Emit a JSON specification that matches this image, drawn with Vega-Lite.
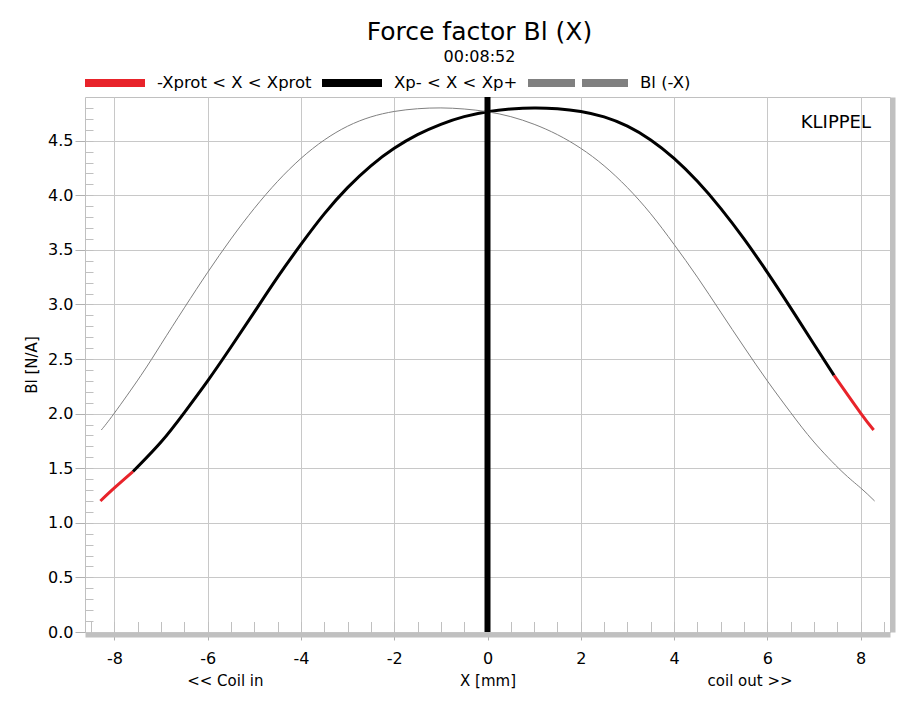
{
  "$schema": "https://vega.github.io/schema/vega-lite/v6.json",
  "width": 805,
  "height": 535,
  "autosize": {"type": "none"},
  "padding": {"left": 85, "top": 97, "right": 33, "bottom": 71},
  "background": "white",
  "config": {
    "font": "DejaVu Sans",
    "view": {"stroke": "#c0c0c0", "strokeWidth": 1},
    "axis": {
      "labelFont": "DejaVu Sans", "titleFont": "DejaVu Sans",
      "labelFontSize": 16, "titleFontSize": 15,
      "labelColor": "#000000", "titleColor": "#000000", "titleFontWeight": "normal",
      "gridColor": "#c8c8c8", "gridWidth": 1, "tickColor": "#b0b0b0"
    }
  },
  "title": {
    "text": "Force factor Bl (X)", "subtitle": "00:08:52",
    "anchor": "middle", "frame": "group", "dx": -8,
    "font": "DejaVu Sans", "subtitleFont": "DejaVu Sans",
    "fontSize": 25, "subtitleFontSize": 16, "fontWeight": "normal",
    "color": "#000000", "subtitleColor": "#000000",
    "offset": -16, "subtitlePadding": 4
  },
  "datasets": {
    "bl": [
      {"X": -8.3, "Bl": 1.20, "series": "-Xprot < X < Xprot", "seg": "L"},
      {"X": -8.0, "Bl": 1.32, "series": "-Xprot < X < Xprot", "seg": "L"},
      {"X": -7.6, "Bl": 1.47, "series": "-Xprot < X < Xprot", "seg": "L"},
      {"X": -7.6, "Bl": 1.47, "series": "Xp- < X < Xp+", "seg": "M"},
      {"X": -7.0, "Bl": 1.74, "series": "Xp- < X < Xp+", "seg": "M"},
      {"X": -6.5, "Bl": 2.01, "series": "Xp- < X < Xp+", "seg": "M"},
      {"X": -6.0, "Bl": 2.30, "series": "Xp- < X < Xp+", "seg": "M"},
      {"X": -5.5, "Bl": 2.61, "series": "Xp- < X < Xp+", "seg": "M"},
      {"X": -5.0, "Bl": 2.93, "series": "Xp- < X < Xp+", "seg": "M"},
      {"X": -4.5, "Bl": 3.25, "series": "Xp- < X < Xp+", "seg": "M"},
      {"X": -4.0, "Bl": 3.55, "series": "Xp- < X < Xp+", "seg": "M"},
      {"X": -3.5, "Bl": 3.83, "series": "Xp- < X < Xp+", "seg": "M"},
      {"X": -3.0, "Bl": 4.07, "series": "Xp- < X < Xp+", "seg": "M"},
      {"X": -2.5, "Bl": 4.27, "series": "Xp- < X < Xp+", "seg": "M"},
      {"X": -2.0, "Bl": 4.43, "series": "Xp- < X < Xp+", "seg": "M"},
      {"X": -1.5, "Bl": 4.555, "series": "Xp- < X < Xp+", "seg": "M"},
      {"X": -1.0, "Bl": 4.65, "series": "Xp- < X < Xp+", "seg": "M"},
      {"X": -0.5, "Bl": 4.72, "series": "Xp- < X < Xp+", "seg": "M"},
      {"X": 0.0, "Bl": 4.765, "series": "Xp- < X < Xp+", "seg": "M"},
      {"X": 0.5, "Bl": 4.79, "series": "Xp- < X < Xp+", "seg": "M"},
      {"X": 1.0, "Bl": 4.80, "series": "Xp- < X < Xp+", "seg": "M"},
      {"X": 1.5, "Bl": 4.7925, "series": "Xp- < X < Xp+", "seg": "M"},
      {"X": 2.0, "Bl": 4.7675, "series": "Xp- < X < Xp+", "seg": "M"},
      {"X": 2.5, "Bl": 4.7175, "series": "Xp- < X < Xp+", "seg": "M"},
      {"X": 3.0, "Bl": 4.6325, "series": "Xp- < X < Xp+", "seg": "M"},
      {"X": 3.5, "Bl": 4.506, "series": "Xp- < X < Xp+", "seg": "M"},
      {"X": 4.0, "Bl": 4.3375, "series": "Xp- < X < Xp+", "seg": "M"},
      {"X": 4.5, "Bl": 4.1275, "series": "Xp- < X < Xp+", "seg": "M"},
      {"X": 5.0, "Bl": 3.88, "series": "Xp- < X < Xp+", "seg": "M"},
      {"X": 5.5, "Bl": 3.60, "series": "Xp- < X < Xp+", "seg": "M"},
      {"X": 6.0, "Bl": 3.294, "series": "Xp- < X < Xp+", "seg": "M"},
      {"X": 6.5, "Bl": 2.969, "series": "Xp- < X < Xp+", "seg": "M"},
      {"X": 7.0, "Bl": 2.635, "series": "Xp- < X < Xp+", "seg": "M"},
      {"X": 7.43, "Bl": 2.35, "series": "Xp- < X < Xp+", "seg": "M"},
      {"X": 7.43, "Bl": 2.35, "series": "-Xprot < X < Xprot", "seg": "R"},
      {"X": 8.0, "Bl": 2.005, "series": "-Xprot < X < Xprot", "seg": "R"},
      {"X": 8.28, "Bl": 1.85, "series": "-Xprot < X < Xprot", "seg": "R"}
    ],
    "blneg": [
      {"X": -8.28, "Bl": 1.85, "series": "Bl (-X)"},
      {"X": -8.0, "Bl": 2.005, "series": "Bl (-X)"},
      {"X": -7.43, "Bl": 2.35, "series": "Bl (-X)"},
      {"X": -7.0, "Bl": 2.635, "series": "Bl (-X)"},
      {"X": -6.5, "Bl": 2.969, "series": "Bl (-X)"},
      {"X": -6.0, "Bl": 3.294, "series": "Bl (-X)"},
      {"X": -5.5, "Bl": 3.60, "series": "Bl (-X)"},
      {"X": -5.0, "Bl": 3.88, "series": "Bl (-X)"},
      {"X": -4.5, "Bl": 4.1275, "series": "Bl (-X)"},
      {"X": -4.0, "Bl": 4.3375, "series": "Bl (-X)"},
      {"X": -3.5, "Bl": 4.506, "series": "Bl (-X)"},
      {"X": -3.0, "Bl": 4.6325, "series": "Bl (-X)"},
      {"X": -2.5, "Bl": 4.7175, "series": "Bl (-X)"},
      {"X": -2.0, "Bl": 4.7675, "series": "Bl (-X)"},
      {"X": -1.5, "Bl": 4.7925, "series": "Bl (-X)"},
      {"X": -1.0, "Bl": 4.80, "series": "Bl (-X)"},
      {"X": -0.5, "Bl": 4.79, "series": "Bl (-X)"},
      {"X": 0.0, "Bl": 4.765, "series": "Bl (-X)"},
      {"X": 0.5, "Bl": 4.72, "series": "Bl (-X)"},
      {"X": 1.0, "Bl": 4.65, "series": "Bl (-X)"},
      {"X": 1.5, "Bl": 4.555, "series": "Bl (-X)"},
      {"X": 2.0, "Bl": 4.43, "series": "Bl (-X)"},
      {"X": 2.5, "Bl": 4.27, "series": "Bl (-X)"},
      {"X": 3.0, "Bl": 4.07, "series": "Bl (-X)"},
      {"X": 3.5, "Bl": 3.83, "series": "Bl (-X)"},
      {"X": 4.0, "Bl": 3.55, "series": "Bl (-X)"},
      {"X": 4.5, "Bl": 3.25, "series": "Bl (-X)"},
      {"X": 5.0, "Bl": 2.93, "series": "Bl (-X)"},
      {"X": 5.5, "Bl": 2.61, "series": "Bl (-X)"},
      {"X": 6.0, "Bl": 2.30, "series": "Bl (-X)"},
      {"X": 6.5, "Bl": 2.01, "series": "Bl (-X)"},
      {"X": 7.0, "Bl": 1.74, "series": "Bl (-X)"},
      {"X": 7.6, "Bl": 1.47, "series": "Bl (-X)"},
      {"X": 8.0, "Bl": 1.32, "series": "Bl (-X)"},
      {"X": 8.3, "Bl": 1.20, "series": "Bl (-X)"}
    ],
    "rest": [{"X": 0}],
    "notes": [
      {"X": -5.62, "Bl": -0.449, "label": "<< Coil in"},
      {"X": 5.63, "Bl": -0.449, "label": "coil out >>"}
    ],
    "brand": [{"X": 7.47, "Bl": 4.665, "label": "KLIPPEL"}]
  },
  "layer": [
    {
      "data": {"name": "bl"},
      "mark": {"type": "line", "strokeWidth": 3, "interpolate": "natural"},
      "encoding": {
        "x": {
          "field": "X", "type": "quantitative",
          "scale": {"domain": [-8.63, 8.63], "nice": false, "zero": false},
          "axis": {
            "orient": "bottom", "values": [-8, -6, -4, -2, 0, 2, 4, 6, 8],
            "labelExpr": "'' + datum.value", "grid": true, "domain": false,
            "ticks": true, "tickSize": 8, "labelPadding": 10,
            "labelFlush": false, "labelOverlap": false,
            "title": "X [mm]", "titlePadding": 7
          }
        },
        "y": {
          "field": "Bl", "type": "quantitative",
          "scale": {"domain": [0, 4.9], "nice": false, "zero": false},
          "axis": {
            "orient": "left", "values": [0, 0.5, 1, 1.5, 2, 2.5, 3, 3.5, 4, 4.5],
            "format": ".1f", "grid": true, "domain": false,
            "tickSize": 10, "labelPadding": 2, "labelFlush": false, "labelOverlap": false,
            "title": "Bl [N/A]", "titlePadding": 8
          }
        },
        "color": {
          "field": "series", "type": "nominal",
          "scale": {
            "domain": ["-Xprot < X < Xprot", "Xp- < X < Xp+", "Bl (-X)"],
            "range": ["#e8232a", "#000000", "#808080"]
          },
          "legend": {
            "title": null, "orient": "top", "direction": "horizontal", "offset": -2,
            "symbolType": "stroke", "symbolSize": 3600, "symbolStrokeWidth": 8,
            "labelFont": "DejaVu Sans", "labelFontSize": 16.5, "labelColor": "#000000",
            "labelOffset": 4, "columnPadding": -6, "padding": 0,
            "encode": {
              "symbols": {"update": {
                "strokeWidth": {"value": 8},
                "size": {"signal": "datum.value === 'Bl (-X)' ? 10000 : 3600"},
                "x": {"signal": "datum.value === 'Bl (-X)' ? 50 : 30"},
                "strokeDash": {"signal": "datum.value === 'Bl (-X)' ? [47, 7] : [1, 0]"}
              }},
              "labels": {"update": {
                "dx": {"signal": "datum.value === 'Bl (-X)' ? 40 : 0"}
              }}
            }
          }
        },
        "detail": {"field": "seg", "type": "nominal"}
      }
    },
    {
      "data": {"name": "blneg"},
      "mark": {"type": "line", "strokeWidth": 1, "interpolate": "natural"},
      "encoding": {
        "x": {
          "field": "X", "type": "quantitative",
          "scale": {"domain": [-8.63, 8.63], "nice": false, "zero": false},
          "axis": {
            "orient": "bottom",
            "values": [-8.5, -8, -7.5, -7, -6.5, -6, -5.5, -5, -4.5, -4, -3.5, -3, -2.5, -2, -1.5, -1, -0.5, 0, 0.5, 1, 1.5, 2, 2.5, 3, 3.5, 4, 4.5, 5, 5.5, 6, 6.5, 7, 7.5, 8, 8.5],
            "labels": false, "grid": false, "ticks": true, "tickSize": -13, "tickColor": "#c0c0c0",
            "domain": true, "domainColor": "#c0c0c0", "domainWidth": 5, "offset": 2.5, "title": null
          }
        },
        "y": {
          "field": "Bl", "type": "quantitative",
          "scale": {"domain": [0, 4.9], "nice": false, "zero": false},
          "axis": {
            "orient": "left",
            "values": [0.1, 0.2, 0.3, 0.4, 0.5, 0.6, 0.7, 0.8, 0.9, 1, 1.1, 1.2, 1.3, 1.4, 1.5, 1.6, 1.7, 1.8, 1.9, 2, 2.1, 2.2, 2.3, 2.4, 2.5, 2.6, 2.7, 2.8, 2.9, 3, 3.1, 3.2, 3.3, 3.4, 3.5, 3.6, 3.7, 3.8, 3.9, 4, 4.1, 4.2, 4.3, 4.4, 4.5, 4.6, 4.7, 4.8],
            "labels": false, "grid": false, "domain": false, "ticks": true,
            "tickSize": -8, "tickColor": "#c0c0c0", "title": null
          }
        },
        "color": {
          "field": "series", "type": "nominal",
          "scale": {
            "domain": ["-Xprot < X < Xprot", "Xp- < X < Xp+", "Bl (-X)"],
            "range": ["#e8232a", "#000000", "#808080"]
          },
          "legend": {
            "title": null, "orient": "top", "direction": "horizontal", "offset": -2,
            "symbolType": "stroke", "symbolSize": 3600, "symbolStrokeWidth": 8,
            "labelFont": "DejaVu Sans", "labelFontSize": 16.5, "labelColor": "#000000",
            "labelOffset": 4, "columnPadding": -6, "padding": 0,
            "encode": {
              "symbols": {"update": {
                "strokeWidth": {"value": 8},
                "size": {"signal": "datum.value === 'Bl (-X)' ? 10000 : 3600"},
                "x": {"signal": "datum.value === 'Bl (-X)' ? 50 : 30"},
                "strokeDash": {"signal": "datum.value === 'Bl (-X)' ? [47, 7] : [1, 0]"}
              }},
              "labels": {"update": {
                "dx": {"signal": "datum.value === 'Bl (-X)' ? 40 : 0"}
              }}
            }
          }
        }
      }
    },
    {
      "data": {"name": "rest"},
      "mark": {"type": "rule", "strokeWidth": 6, "color": "#000000"},
      "encoding": {
        "x": {"field": "X", "type": "quantitative", "axis": null,
              "scale": {"domain": [-8.63, 8.63], "nice": false, "zero": false}}
      }
    },
    {
      "data": {"name": "notes"},
      "mark": {"type": "text", "fontSize": 15, "font": "DejaVu Sans", "align": "center", "baseline": "middle", "color": "#000000"},
      "encoding": {
        "x": {"field": "X", "type": "quantitative", "axis": null,
              "scale": {"domain": [-8.63, 8.63], "nice": false, "zero": false}},
        "y": {"field": "Bl", "type": "quantitative", "axis": null,
              "scale": {"domain": [0, 4.9], "nice": false, "zero": false}},
        "text": {"field": "label"}
      }
    },
    {
      "data": {"name": "brand"},
      "mark": {"type": "text", "fontSize": 18, "font": "DejaVu Sans", "align": "center", "baseline": "middle", "color": "#000000"},
      "encoding": {
        "x": {"field": "X", "type": "quantitative", "axis": null,
              "scale": {"domain": [-8.63, 8.63], "nice": false, "zero": false}},
        "y": {"field": "Bl", "type": "quantitative",
              "scale": {"domain": [0, 4.9], "nice": false, "zero": false},
              "axis": {"orient": "right", "labels": false, "ticks": false, "grid": false,
                       "domain": true, "domainColor": "#c0c0c0", "domainWidth": 5, "offset": 2.5, "title": null}},
        "text": {"field": "label"}
      }
    }
  ],
  "resolve": {"axis": {"x": "independent", "y": "independent"}}
}
